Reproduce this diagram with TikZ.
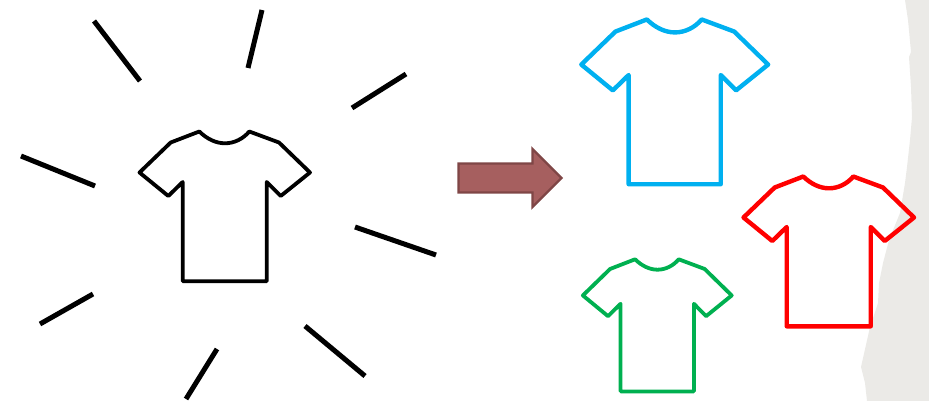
\documentclass[tikz,border=0pt]{standalone}
\definecolor{paper}{HTML}{EBEAE7}
\definecolor{shirtblue}{HTML}{00B0F0}
\definecolor{shirtred}{HTML}{FF0000}
\definecolor{shirtgreen}{HTML}{00B050}
\definecolor{arrowfill}{HTML}{A65F5F}
\definecolor{arrowedge}{HTML}{7F4646}
\tikzset{
  ray/.style={draw=black,line width=5pt},
  pics/tshirt/.style={code={
    \draw[line join=round,pic actions]
      (-85.5,0.5) -- (-54.3,-29.5) -- (-25.7,-40.5)
      .. controls (-18,-33) and (-9,-28.7) .. (0,-28.7)
      .. controls (9,-28.7) and (18,-33) .. (24.3,-40.5)
      -- (54,-29.5) -- (85,0.5) -- (55.7,24) -- (41.7,10)
      -- (41.7,109.3) -- (-42.3,109.3) -- (-42.3,10) -- (-56.7,24) -- cycle;
  }}
}
\begin{document}
\begin{tikzpicture}[x=1pt,y=-1pt]
  \useasboundingbox (0,0) rectangle (929,401);
  \fill[paper] (905,0) -- (908,20) -- (911,52) -- (909,57) -- (911,87) -- (912,117)
    -- (910,140) -- (907,167) -- (905,183) -- (900,213) -- (889,240) -- (883,263)
    -- (879,283) -- (878,303) -- (870,327) -- (861,367) -- (865,383) -- (867,401)
    -- (929,401) -- (929,0) -- cycle;
  \begin{scope}[shift={(225,172)},line width=3.8pt]
    \pic[draw=black] {tshirt};
  \end{scope}
  \begin{scope}[shift={(675,64)},x=1.096pt,y=-1.1pt,line width=4.4pt]
    \pic[draw=shirtblue] {tshirt};
  \end{scope}
  \begin{scope}[shift={(829,217)},line width=4.4pt]
    \pic[draw=shirtred] {tshirt};
  \end{scope}
  \begin{scope}[shift={(657.5,295)},x=0.873pt,y=-0.882pt,line width=3.8pt]
    \pic[draw=shirtgreen] {tshirt};
  \end{scope}
  \draw[ray] (94,21) -- (140,81);
  \draw[ray] (262,10) -- (248,68);
  \draw[ray] (406,74) -- (352,108);
  \draw[ray] (21,156) -- (95,186);
  \draw[ray] (355,227) -- (436,255);
  \draw[ray] (93,294) -- (40,324);
  \draw[ray] (217,349) -- (186,399);
  \draw[ray] (305,326) -- (365,376);
  \draw[fill=arrowfill,draw=arrowedge,line width=2.4pt,line join=miter]
    (458.5,163.5) -- (532.5,163.5) -- (532.5,149) -- (561.5,178) -- (532.5,207)
    -- (532.5,192.5) -- (458.5,192.5) -- cycle;
\end{tikzpicture}
\end{document}
